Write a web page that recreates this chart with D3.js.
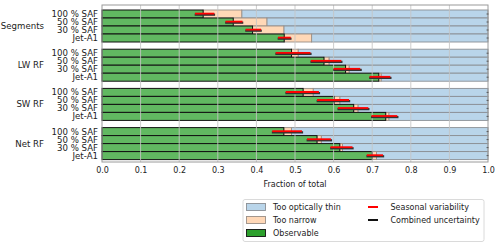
<!DOCTYPE html>
<html><head><meta charset="utf-8">
<script src="https://cdn.jsdelivr.net/npm/d3@7"></script>
<style>
body{margin:0;background:#fff;}
text{font-family:"DejaVu Sans",sans-serif;fill:#222;}
</style></head>
<body><svg id="c" width="500" height="248"></svg>
<script>
const groups = ["Segments", "LW RF", "SW RF", "Net RF"];
const rowLabels = ["100 % SAF", "50 % SAF", "30 % SAF", "Jet-A1"];
const observable = [
  [0.262, 0.340, 0.390, 0.472],
  [0.491, 0.575, 0.631, 0.717],
  [0.521, 0.601, 0.652, 0.735],
  [0.471, 0.557, 0.616, 0.700]
];
const notThin = [
  [0.362, 0.427, 0.471, 0.543],
  [0.508, 0.588, 0.640, 0.723],
  [0.547, 0.616, 0.663, 0.743],
  [0.491, 0.568, 0.623, 0.711]
];
const seasonal = [
  [[0.241, 0.291], [0.320, 0.364], [0.372, 0.412], [0.456, 0.489]],
  [[0.450, 0.540], [0.541, 0.620], [0.600, 0.669], [0.693, 0.747]],
  [[0.476, 0.562], [0.557, 0.640], [0.611, 0.690], [0.698, 0.765]],
  [[0.441, 0.518], [0.531, 0.593], [0.592, 0.649], [0.686, 0.728]]
];
const combined = [
  [[0.240, 0.293], [0.319, 0.366], [0.371, 0.414], [0.455, 0.491]],
  [[0.449, 0.543], [0.540, 0.623], [0.599, 0.673], [0.692, 0.750]],
  [[0.475, 0.565], [0.556, 0.643], [0.610, 0.693], [0.697, 0.768]],
  [[0.440, 0.521], [0.530, 0.596], [0.591, 0.652], [0.685, 0.731]]
];
const xTicks = [0.0, 0.1, 0.2, 0.3, 0.4, 0.5, 0.6, 0.7, 0.8, 0.9, 1.0];
const legendLeft = ["Too optically thin", "Too narrow", "Observable"];
const legendRight = ["Seasonal variability", "Combined uncertainty"];

const svg = d3.select("#c");
const L = 102, R = 488, T = 5, B = 162;
const x = d3.scaleLinear().domain([0, 1]).range([L, R]);
const GAP = 4.9;
const y = d3.scaleLinear().domain([-1.125, 18.5]).range([T, B]);
const bh = y(1) - y(0);

const cBlue = "#b9d5ea", cOrange = "#ffd8b7", cGreen = "#61b861";

const rows = [];
groups.forEach((g, gi) => rowLabels.forEach((r, ri) => rows.push({
  gi, ri, p: gi * GAP + ri,
  obs: observable[gi][ri], nt: notThin[gi][ri],
  s: seasonal[gi][ri], c: combined[gi][ri]
})));

// background frame
svg.append("rect").attr("x", L).attr("y", T).attr("width", R - L).attr("height", B - T)
  .attr("fill", "#fff");

const bars = svg.append("g");
rows.forEach(d => {
  const yt = y(d.p) - bh / 2;
  bars.append("rect").attr("x", x(d.nt)).attr("y", yt).attr("width", x(1) - x(d.nt)).attr("height", bh)
    .attr("fill", cBlue).attr("stroke", "#8a8f94").attr("stroke-width", 0.9);
  bars.append("rect").attr("x", x(d.obs)).attr("y", yt).attr("width", x(d.nt) - x(d.obs)).attr("height", bh)
    .attr("fill", cOrange).attr("stroke", "#9a8f86").attr("stroke-width", 0.9);
});
rows.forEach(d => {
  const yt = y(d.p) - bh / 2;
  bars.append("rect").attr("x", x(0)).attr("y", yt).attr("width", x(d.obs) - x(0)).attr("height", bh)
    .attr("fill", cGreen).attr("stroke", "#111").attr("stroke-width", 1);
});

// grid on top
svg.append("g").selectAll("line").data(xTicks.slice(1, -1)).join("line")
  .attr("x1", d => x(d)).attr("x2", d => x(d)).attr("y1", T).attr("y2", B)
  .attr("stroke", "#c4c4c4").attr("stroke-opacity", 0.85).attr("stroke-width", 1);

// error bars
const eb = svg.append("g");
rows.forEach(d => {
  const yc = y(d.p);
  eb.append("line").attr("x1", x(d.c[0])).attr("x2", x(d.c[1])).attr("y1", yc + 0.7).attr("y2", yc + 0.7)
    .attr("stroke", "#333").attr("stroke-width", 2.2);
  eb.append("line").attr("x1", x(d.s[0])).attr("x2", x(d.s[1])).attr("y1", yc - 0.4).attr("y2", yc - 0.4)
    .attr("stroke", "#ff0000").attr("stroke-width", 1.8);
});

// frame
svg.append("rect").attr("x", L).attr("y", T).attr("width", R - L).attr("height", B - T)
  .attr("fill", "none").attr("stroke", "#9a9a9a").attr("stroke-width", 1);

// right small ticks
svg.append("g").selectAll("line").data(rows).join("line")
  .attr("x1", R - 1.5).attr("x2", R + 0.5).attr("y1", d => y(d.p)).attr("y2", d => y(d.p))
  .attr("stroke", "#444").attr("stroke-width", 0.8);

// x axis
const xAxis = d3.axisBottom(x).tickValues(xTicks).tickFormat(d3.format(".1f")).tickSize(0).tickPadding(5);
const ax = svg.append("g").attr("transform", `translate(0,${B})`).call(xAxis);
ax.select(".domain").remove();
ax.selectAll("text").attr("font-size", 8).attr("font-family", "DejaVu Sans").style("fill", "#222");

svg.append("text").attr("x", (L + R) / 2).attr("y", 187).attr("text-anchor", "middle")
  .attr("font-size", 8).text("Fraction of total");

// row labels
svg.append("g").selectAll("text").data(rows).join("text")
  .attr("x", 98).attr("y", d => y(d.p)).attr("dy", "0.36em").attr("text-anchor", "end")
  .attr("font-size", 8.6).text(d => rowLabels[d.ri]);

// group labels
svg.append("g").selectAll("text").data(groups).join("text")
  .attr("x", 44).attr("y", (d, i) => y(i * GAP + 1.5)).attr("dy", "0.36em").attr("text-anchor", "end")
  .attr("font-size", 8.6).text(d => d);

// legend
const lg = svg.append("g");
lg.append("rect").attr("x", 243).attr("y", 199.5).attr("width", 241).attr("height", 42).attr("rx", 2)
  .attr("fill", "#fff").attr("stroke", "#d0d0d0").attr("stroke-width", 0.8);
const patchCols = [[cBlue, "#8a8f94"], [cOrange, "#9a8f86"], ["#2ca02c", "#111"]];
legendLeft.forEach((t, i) => {
  const yy = 207 + i * 13;
  lg.append("rect").attr("x", 246.5).attr("y", yy - 3.5).attr("width", 19).attr("height", 7)
    .attr("fill", patchCols[i][0]).attr("stroke", patchCols[i][1]).attr("stroke-width", 0.9);
  lg.append("text").attr("x", 273).attr("y", yy).attr("dy", "0.36em").attr("font-size", 8).text(t);
});
const lineCols = ["#ff0000", "#111"];
legendRight.forEach((t, i) => {
  const yy = 207 + i * 13;
  lg.append("line").attr("x1", 368).attr("x2", 378).attr("y1", yy).attr("y2", yy)
    .attr("stroke", lineCols[i]).attr("stroke-width", 2);
  lg.append("text").attr("x", 390.5).attr("y", yy).attr("dy", "0.36em").attr("font-size", 8).text(t);
});
</script></body></html>
